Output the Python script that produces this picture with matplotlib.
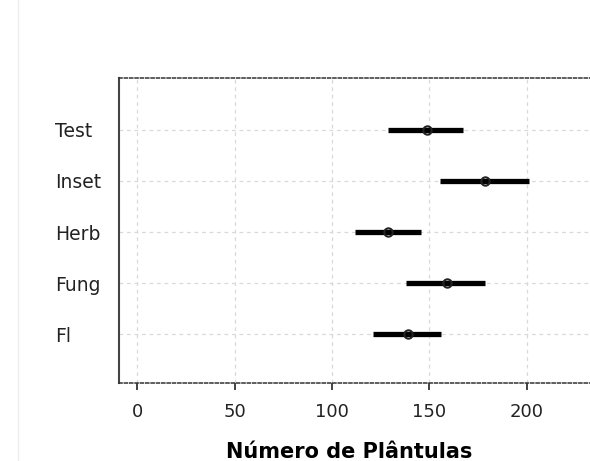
import matplotlib.pyplot as plt
from matplotlib.lines import Line2D

groups = ["Fl", "Fung", "Herb", "Inset", "Test"]
means = [139, 159, 129, 178.5, 149]
lower = [121, 138, 112, 155.5, 129]
upper = [156, 178.5, 145.5, 201, 167.5]
xticks = [0, 50, 100, 150, 200]

fig = plt.figure(figsize=(5.9, 4.61), dpi=100)
ax = fig.add_axes([0.2017, 0.169, 0.823, 0.662])

pos = list(range(1, len(groups) + 1))
ax.hlines(pos, lower, upper, color="black", lw=3.8, zorder=2)
ax.plot(means, pos, "o", ms=6, mfc="none", mec="#222222", mew=1.5, zorder=3)

ax.set_xlim(-9.3, 240)
ax.set_ylim(0.04, 6.02)
ax.set_xticks(xticks)
ax.set_yticks(pos)
ax.set_yticklabels(groups)
for lab in ax.get_yticklabels():
    lab.set_ha("left")
ax.tick_params(axis="y", length=0, pad=46, labelsize=13.5, labelcolor="#222222")
ax.tick_params(axis="x", length=5, width=1.2, color="#222222", labelsize=13,
               labelcolor="#222222", pad=9)

ax.grid(True, color="#d9d9d9", ls=(0, (3, 3)), lw=0.9, zorder=4)

for s in ["top", "bottom"]:
    ax.spines[s].set_linestyle((0, (2, 1.5)))
    ax.spines[s].set_color("#333333")
    ax.spines[s].set_linewidth(1.1)
ax.spines["left"].set_color("#444444")
ax.spines["left"].set_linewidth(1.5)
ax.spines["right"].set_visible(False)

fig.text(0.591, 0.0065, "Número de Plântulas", ha="center", va="baseline",
         fontsize=15, fontweight="bold")
fig.add_artist(Line2D([0.031, 0.031], [0, 1], color="#eeeeee", lw=1))

fig.savefig("out.png", dpi=100)
